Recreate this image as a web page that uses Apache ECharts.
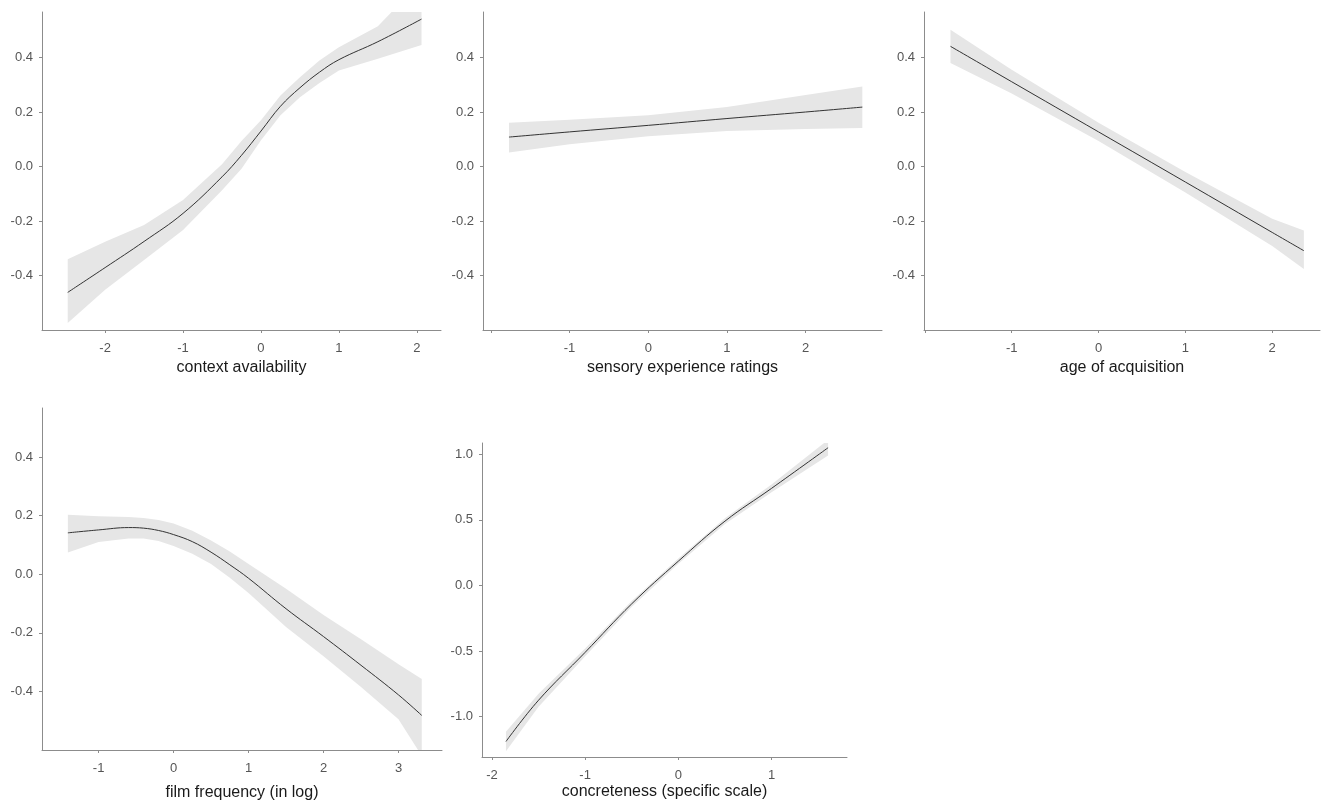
<!DOCTYPE html>
<html>
<head>
<meta charset="utf-8">
<script src="https://cdn.jsdelivr.net/npm/echarts@6/dist/echarts.min.js"></script>
<style>
html,body{margin:0;padding:0;background:#fff;}
#chart{width:1323px;height:802px;}
</style>
</head>
<body>
<div id="chart"></div>
<script>
// Panel 1: context availability
const p1X     = [-2.48, -2.0, -1.5, -1.0, -0.5, -0.25, 0.0, 0.25, 0.5, 0.75, 1.0, 1.5, 2.06];
const p1Fit   = [-0.462, -0.371, -0.275, -0.172, -0.038, 0.041, 0.130, 0.221, 0.289, 0.346, 0.392, 0.458, 0.541];
const p1Upper = [-0.340, -0.276, -0.215, -0.123, 0.008, 0.094, 0.170, 0.261, 0.328, 0.389, 0.438, 0.515, 0.680];
const p1Lower = [-0.574, -0.452, -0.343, -0.233, -0.087, -0.008, 0.096, 0.188, 0.254, 0.306, 0.352, 0.395, 0.446];

// Panel 2: sensory experience ratings
const p2X     = [-1.77, -1.0, 0.0, 1.0, 2.0, 2.72];
const p2Fit   = [0.108, 0.127, 0.151, 0.176, 0.200, 0.218];
const p2Upper = [0.161, 0.172, 0.188, 0.218, 0.262, 0.294];
const p2Lower = [0.051, 0.082, 0.111, 0.130, 0.138, 0.141];

// Panel 3: age of acquisition
const p3X     = [-1.705, -1.0, 0.0, 1.0, 2.0, 2.364];
const p3Fit   = [0.441, 0.311, 0.127, -0.057, -0.242, -0.309];
const p3Upper = [0.502, 0.355, 0.161, -0.020, -0.192, -0.235];
const p3Lower = [0.380, 0.268, 0.094, -0.095, -0.292, -0.376];

// Panel 4: film frequency (in log)
const p4X     = [-1.41, -1.0, -0.6, -0.4, -0.2, 0.0, 0.25, 0.5, 0.75, 1.0, 1.5, 2.0, 2.5, 3.0, 3.31];
const p4Fit   = [0.141, 0.151, 0.159, 0.157, 0.149, 0.135, 0.111, 0.075, 0.032, -0.014, -0.118, -0.213, -0.311, -0.412, -0.482];
const p4Upper = [0.203, 0.198, 0.195, 0.192, 0.185, 0.173, 0.148, 0.115, 0.077, 0.035, -0.050, -0.139, -0.222, -0.307, -0.358];
const p4Lower = [0.074, 0.110, 0.122, 0.122, 0.113, 0.096, 0.070, 0.035, -0.012, -0.064, -0.180, -0.280, -0.385, -0.495, -0.620];

// Panel 5: concreteness (specific scale)
const p5X     = [-1.85, -1.5, -1.0, -0.5, 0.0, 0.5, 1.0, 1.607];
const p5Fit   = [-1.190, -0.875, -0.510, -0.140, 0.185, 0.490, 0.740, 1.050];
const p5Upper = [-1.115, -0.825, -0.480, -0.118, 0.205, 0.512, 0.770, 1.110];
const p5Lower = [-1.265, -0.925, -0.540, -0.162, 0.165, 0.468, 0.710, 0.990];

// Tick values / labels
const xTicks1 = [-2, -1, 0, 1, 2];
const xTicks2 = [-2, -1, 0, 1, 2];
const xLabels2 = [-1, 0, 1, 2];
const xTicks3 = [-2, -1, 0, 1, 2];
const xLabels3 = [-1, 0, 1, 2];
const xTicks4 = [-1, 0, 1, 2, 3];
const xTicks5 = [-2, -1, 0, 1];
const yTicksA = [-0.4, -0.2, 0.0, 0.2, 0.4];
const yTicks5 = [-1.0, -0.5, 0.0, 0.5, 1.0];

const names = ['context availability', 'sensory experience ratings', 'age of acquisition',
               'film frequency (in log)', 'concreteness (specific scale)'];

const panels = [
  {grid:{left:42, top:12, width:399, height:318}, x:[-2.81, 2.31], y:[-0.6, 0.567], xt:xTicks1, xl:xTicks1, yt:yTicksA, gap:30,
   xs:p1X, fit:p1Fit, up:p1Upper, lo:p1Lower},
  {grid:{left:483, top:12, width:399, height:318}, x:[-2.10, 2.97], y:[-0.6, 0.567], xt:xTicks2, xl:xLabels2, yt:yTicksA, gap:30,
   xs:p2X, fit:p2Fit, up:p2Upper, lo:p2Lower},
  {grid:{left:924, top:12, width:396, height:318}, x:[-2.01, 2.55], y:[-0.6, 0.567], xt:xTicks3, xl:xLabels3, yt:yTicksA, gap:30,
   xs:p3X, fit:p3Fit, up:p3Upper, lo:p3Lower},
  {grid:{left:42, top:408, width:400, height:348}, x:[-1.755, 3.58], y:[-0.6, 0.567], xt:xTicks4, xl:xTicks4, yt:yTicksA, gap:35,
   xs:p4X, fit:p4Fit, up:p4Upper, lo:p4Lower},
  {grid:{left:482, top:443, width:365, height:314}, x:[-2.107, 1.81], y:[-1.308, 1.086], xt:xTicks5, xl:xTicks5, yt:yTicks5, gap:27,
   xs:p5X, fit:p5Fit, up:p5Upper, lo:p5Lower}
];

const axisLineStyle = {color:'#8c8c8c', width:1};
const tickLabel = {color:'#555', fontSize:13, fontFamily:'Liberation Sans, Arial, sans-serif'};

const grids = [], xAxes = [], yAxes = [], series = [];
panels.forEach((p, i) => {
  grids.push(Object.assign({containLabel:false}, p.grid));
  xAxes.push({
    type:'value', gridIndex:i, min:p.x[0], max:p.x[1],
    name:names[i], nameLocation:'middle', nameGap:p.gap,
    nameTextStyle:{color:'#1a1a1a', fontSize:16, fontFamily:'Liberation Sans, Arial, sans-serif'},
    axisLine:{show:true, onZero:false, lineStyle:axisLineStyle},
    axisTick:{show:true, length:3, customValues:p.xt, lineStyle:axisLineStyle},
    axisLabel:Object.assign({margin:12, customValues:p.xl, formatter:v => String(Math.round(v))}, tickLabel),
    splitLine:{show:false}
  });
  yAxes.push({
    type:'value', gridIndex:i, min:p.y[0], max:p.y[1],
    axisLine:{show:true, onZero:false, lineStyle:axisLineStyle},
    axisTick:{show:true, length:3, customValues:p.yt, lineStyle:axisLineStyle},
    axisLabel:Object.assign({margin:9, customValues:p.yt, formatter:v => v.toFixed(1)}, tickLabel),
    splitLine:{show:false}
  });
  // confidence band as a polygon through the axis scales
  const bandData = p.xs.map((x, k) => [x, p.lo[k], p.up[k]]);
  series.push({
    type:'custom', xAxisIndex:i, yAxisIndex:i, silent:true, z:1,
    data:bandData,
    encode:{x:0, y:[1, 2]},
    renderItem:function (params, api) {
      if (params.dataIndex !== 0) return null;
      const upperPts = bandData.map(d => api.coord([d[0], d[2]]));
      const lowerPts = bandData.map(d => api.coord([d[0], d[1]])).reverse();
      const cs = params.coordSys;
      return {
        type:'polygon',
        shape:{points:upperPts.concat(lowerPts)},
        style:{fill:'#e6e6e6', stroke:null},
        clipPath:{type:'rect', shape:{x:cs.x, y:cs.y, width:cs.width, height:cs.height}}
      };
    }
  });
  const fit = p.xs.map((x, k) => [x, p.fit[k]]);
  series.push({
    type:'line', xAxisIndex:i, yAxisIndex:i,
    data:fit, symbol:'none', smooth:0.4, silent:true,
    lineStyle:{color:'#333', width:1}, z:3
  });
});

const chart = echarts.init(document.getElementById('chart'), null, {renderer:'canvas'});
chart.setOption({
  animation:false,
  backgroundColor:'#ffffff',
  grid:grids, xAxis:xAxes, yAxis:yAxes, series:series
});
</script>
</body>
</html>
